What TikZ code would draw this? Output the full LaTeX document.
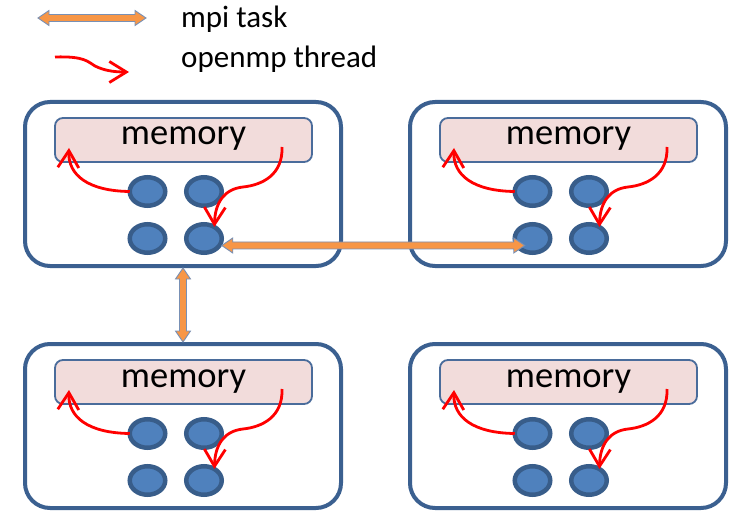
\documentclass[tikz,border=0pt]{standalone}
\usepackage{fontspec}
\setmainfont{Carlito}
\usetikzlibrary{calc,arrows.meta,shapes.geometric}
\definecolor{boxblue}{HTML}{3B6090}
\definecolor{ellfill}{HTML}{4F81BD}
\definecolor{ellline}{HTML}{385D8A}
\definecolor{memfill}{HTML}{F2DCDB}
\definecolor{memline}{HTML}{4A6C9B}
\definecolor{mpiorange}{HTML}{F79646}
\definecolor{mpiline}{HTML}{7890B5}
\tikzset{
  nodebox/.style={draw=boxblue,line width=4pt,rounded corners=25pt,fill=white},
  membox/.style={draw=memline,line width=1.8pt,rounded corners=8pt,fill=memfill,
    minimum width=257pt,minimum height=44pt,inner sep=0pt},
  memtext/.style={font=\fontsize{36.5}{40}\selectfont,anchor=base,inner sep=0pt},
  thread/.style={ellipse,draw=ellline,fill=ellfill,line width=4.5pt,
    minimum width=35.5pt,minimum height=28.5pt,inner sep=0pt,outer sep=0pt},
  ompline/.style={draw=red,line width=2.8pt,
    -{Straight Barb[length=17pt,width=21pt,line width=2.8pt]}},
  mpiarrow/.style={draw=mpiline,line width=0.9pt,fill=mpiorange,line join=miter},
  legtext/.style={font=\fontsize{31}{36}\selectfont,anchor=base west,inner sep=0pt},
}
% block double arrow between two points
\newcommand\blockarr[2]{%
  \path[mpiarrow] let \p1=#1, \p2=#2,
    \n1={veclen(\x2-\x1,\y2-\y1)}, \n2={atan2(\y2-\y1,\x2-\x1)} in
    [shift={(\p1)}, rotate=\n2]
    (0pt,0pt) -- (11pt,7.5pt) -- (11pt,3.5pt) -- (\n1-11pt,3.5pt) -- (\n1-11pt,7.5pt)
    -- (\n1,0pt) -- (\n1-11pt,-7.5pt) -- (\n1-11pt,-3.5pt) -- (11pt,-3.5pt)
    -- (11pt,-7.5pt) -- cycle;}
% one cluster: name, x offset, y offset
\newcommand\cluster[3]{%
  \begin{scope}[shift={(#2,#3)}]
    \draw[nodebox] (25,102) rectangle (341,266);
    \node[membox] (#1-mem) at (183.5,140) {};
    \node[memtext] (#1-lbl) at (183.5,145) {memory};
    \node[thread] (#1-t1) at (147.5,191.5) {};
    \node[thread] (#1-t2) at (204,191.5) {};
    \node[thread] (#1-t3) at (147.5,238.5) {};
    \node[thread] (#1-t4) at (204,238.5) {};
    \coordinate (#1-in) at (69,148);
    \coordinate (#1-out) at (282,147);
    \draw[ompline] (#1-t1.west) .. controls (88,191) and (68,175) .. (#1-in);
    \draw[ompline] (#1-out) .. controls (283,175) and (262,185) .. (243,187)
       .. controls (224,189) and (215,203) .. (#1-t4.48);
  \end{scope}}
\begin{document}
\begin{tikzpicture}[x=1pt,y=-1pt]
\useasboundingbox (0,0) rectangle (731,513);
% legend
\coordinate (legA) at (38,18);
\coordinate (legB) at (146,18);
\blockarr{(legA)}{(legB)}
\node[legtext] (legmpi) at (181,28) {mpi task};
\coordinate (legC) at (55,57);
\coordinate (legD) at (129,72);
\draw[ompline] (legC) .. controls (85,56) and (88,62) .. (95,66)
   .. controls (103,70) and (112,72) .. (legD);
\node[legtext] (legomp) at (181,68) {openmp thread};
% clusters
\cluster{tl}{0}{0}
\cluster{tr}{385}{0}
\cluster{bl}{0}{242}
\cluster{br}{385}{242}
% mpi connections
\coordinate (h1) at ($(tl-t4.east)+(0,7)$);
\coordinate (h2) at ($(tr-t3.west)+(10,7)$);
\blockarr{(h1)}{(h2)}
\coordinate (v1) at (183,268);
\coordinate (v2) at (183,342);
\blockarr{(v1)}{(v2)}
\end{tikzpicture}
\end{document}
